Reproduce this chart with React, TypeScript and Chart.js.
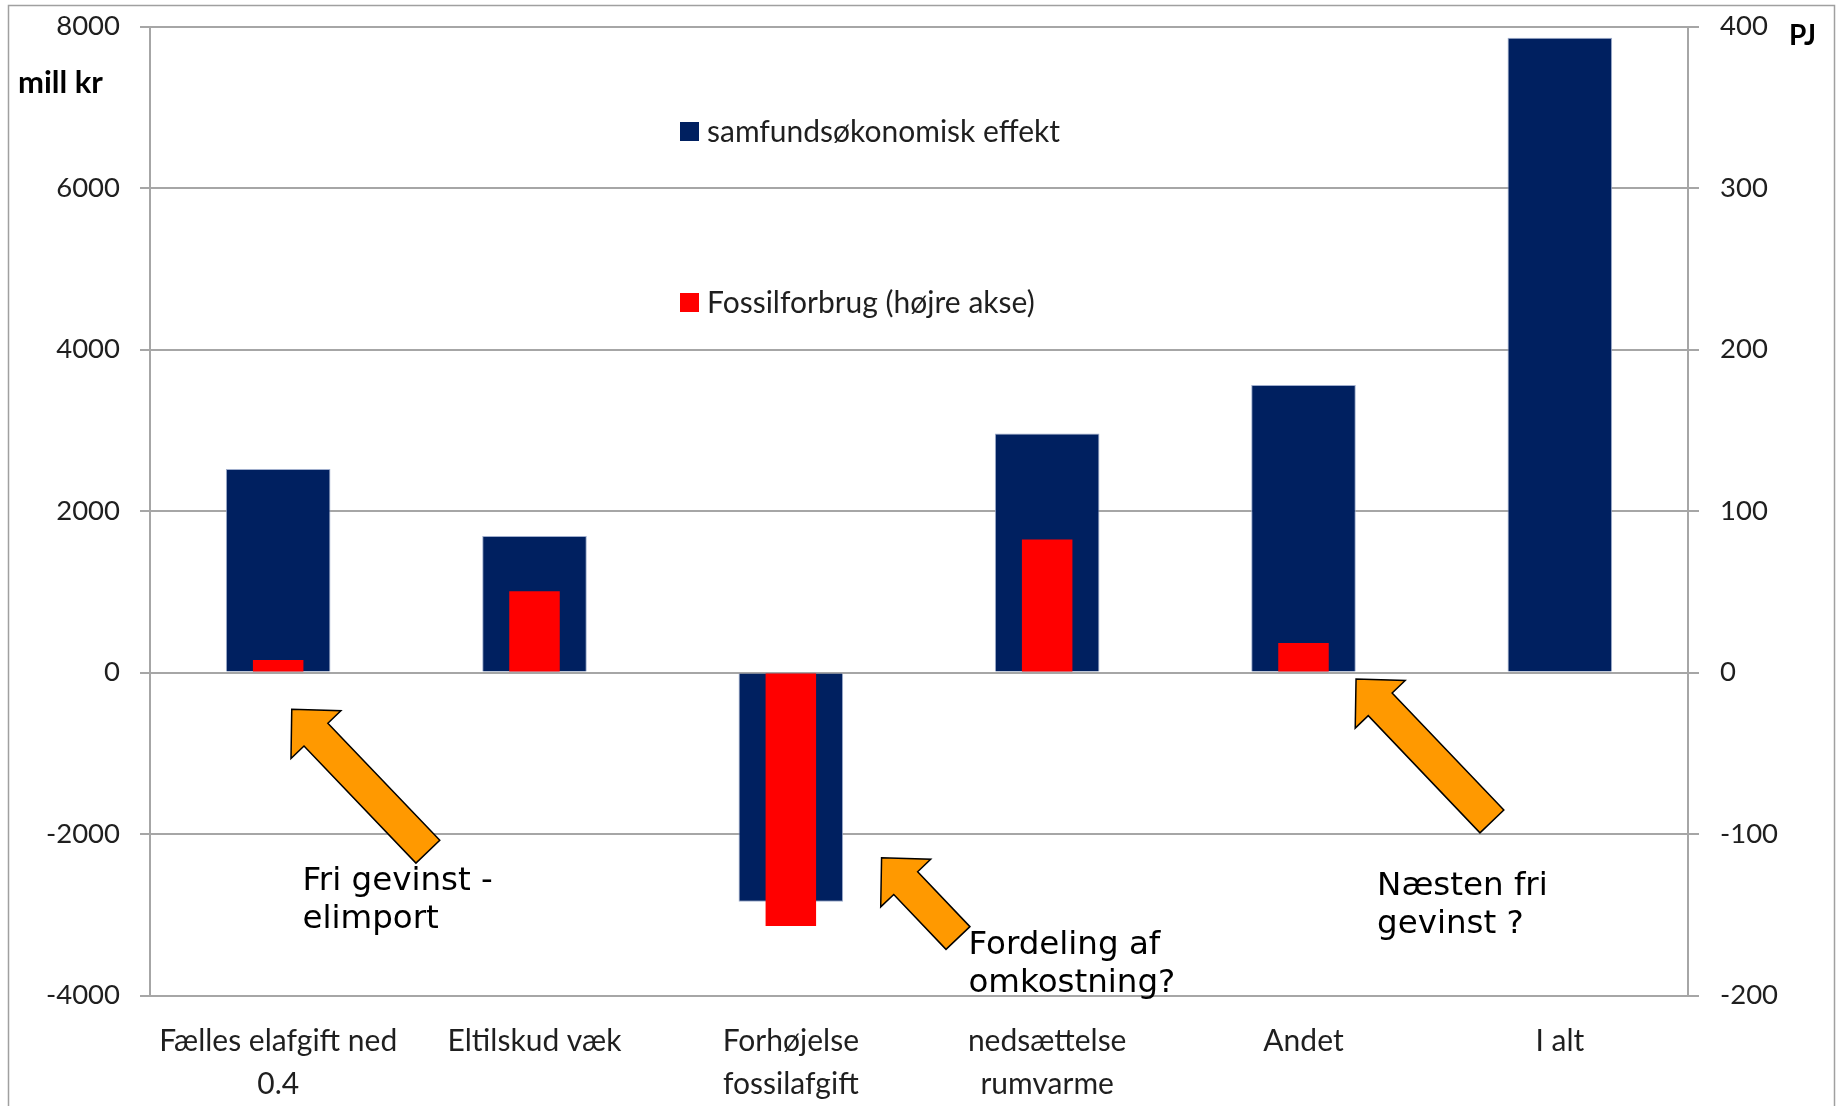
import React, { useEffect, useRef } from "react";
import { Chart, registerables } from "chart.js";

Chart.register(...registerables);

// ---------- data ----------
const categories: (string | string[])[] = [
  ["Fælles elafgift ned", "0.4"],
  "Eltilskud væk",
  ["Forhøjelse", "fossilafgift"],
  ["nedsættelse", "rumvarme"],
  "Andet",
  "I alt",
];
const samfundsLabel = "samfundsøkonomisk effekt";
const samfundsValues = [2520, 1690, -2840, 2960, 3560, 7860];
const fossilLabel = "Fossilforbrug (højre akse)";
const fossilValues = [7.7, 50.3, -157, 82.3, 18.3, 0];

const leftMin = -4000;
const leftMax = 8000;
const leftStep = 2000;
const rightMin = -200;
const rightMax = 400;
const rightStep = 100;

const leftUnit = "mill kr";
const rightUnit = "PJ";

const noteTexts: string[][] = [
  ["Fri gevinst -", "elimport"],
  ["Fordeling af", "omkostning?"],
  ["Næsten fri", "gevinst ?"],
];

// ---------- annotation layout (category index, left-axis value) ----------
const arrowLayout = [
  { tip: [0.053, -456], tail: [0.584, -2219] },
  { tip: [2.354, -2294], tail: [2.652, -3288] },
  { tip: [4.205, -80], tail: [4.735, -1845] },
];
const noteLayout = [
  { at: [0.095, -2693] },
  { at: [2.693, -3486] },
  { at: [4.287, -2755] },
];

const COLORS = {
  blue: "#002060",
  red: "#FF0000",
  orange: "#FF9900",
  grid: "#A6A6A6",
  text: "#1f1f1f",
};

const FONT = "Lato";

const decorPlugin = {
  id: "decor",
  beforeDraw(chart: any) {
    const ctx = chart.ctx;
    ctx.save();
    ctx.fillStyle = "#ffffff";
    ctx.fillRect(0, 0, chart.width, chart.height);
    ctx.strokeStyle = "#A0A0A0";
    ctx.lineWidth = 1.5;
    ctx.strokeRect(8.5, 5.5, 1826, 1200);
    ctx.restore();
  },
  afterDraw(chart: any) {
    const ctx = chart.ctx;
    const xs = chart.scales.x;
    const ys = chart.scales.y;
    ctx.save();
    // unit labels
    ctx.fillStyle = "#000";
    ctx.font = `bold 31px ${FONT}`;
    ctx.textBaseline = "middle";
    ctx.textAlign = "left";
    ctx.fillText(leftUnit, 18, 83);
    ctx.font = `bold 28px ${FONT}`;
    ctx.fillText(rightUnit, 1789, 36);

    // legend
    const legendPos = [
      { x: 680, y: 122 },
      { x: 680, y: 293 },
    ];
    chart.data.datasets.forEach((ds: any, i: number) => {
      const p = legendPos[i];
      ctx.fillStyle = ds.backgroundColor;
      ctx.fillRect(p.x, p.y, 19, 19);
      ctx.fillStyle = COLORS.text;
      ctx.font = `30px ${FONT}`;
      ctx.textBaseline = "middle";
      ctx.fillText(ds.label, p.x + 27, p.y + 10);
    });

    // arrows
    const shaftHalf = 16.5;
    const headHalf = 34.5;
    const headLen = 35;
    arrowLayout.forEach((a) => {
      const tx = xs.getPixelForValue(a.tip[0]);
      const ty = ys.getPixelForValue(a.tip[1]);
      const bx = xs.getPixelForValue(a.tail[0]);
      const by = ys.getPixelForValue(a.tail[1]);
      const dx = tx - bx;
      const dy = ty - by;
      const len = Math.hypot(dx, dy);
      const ux = dx / len;
      const uy = dy / len;
      const nx = -uy;
      const ny = ux;
      const hx = tx - ux * headLen;
      const hy = ty - uy * headLen;
      ctx.beginPath();
      ctx.moveTo(bx + nx * shaftHalf, by + ny * shaftHalf);
      ctx.lineTo(hx + nx * shaftHalf, hy + ny * shaftHalf);
      ctx.lineTo(hx + nx * headHalf, hy + ny * headHalf);
      ctx.lineTo(tx, ty);
      ctx.lineTo(hx - nx * headHalf, hy - ny * headHalf);
      ctx.lineTo(hx - nx * shaftHalf, hy - ny * shaftHalf);
      ctx.lineTo(bx - nx * shaftHalf, by - ny * shaftHalf);
      ctx.closePath();
      ctx.fillStyle = COLORS.orange;
      ctx.fill();
      ctx.strokeStyle = "#000";
      ctx.lineWidth = 1.5;
      ctx.lineJoin = "miter";
      ctx.stroke();
    });

    // note texts
    ctx.fillStyle = "#000";
    ctx.font = `32.5px "DejaVu Sans"`;
    ctx.textAlign = "left";
    ctx.textBaseline = "alphabetic";
    noteLayout.forEach((n, i) => {
      const x = xs.getPixelForValue(n.at[0]);
      const y = ys.getPixelForValue(n.at[1]);
      noteTexts[i].forEach((line, j) => {
        ctx.fillText(line, x, y + j * 38);
      });
    });
    ctx.restore();
  },
};

export default function App() {
  const ref = useRef<HTMLCanvasElement | null>(null);

  useEffect(() => {
    if (!ref.current) return;
    const chart = new Chart(ref.current, {
      type: "bar",
      data: {
        labels: categories,
        datasets: [
          {
            label: samfundsLabel,
            data: samfundsValues,
            backgroundColor: COLORS.blue,
            borderColor: "rgba(150,165,200,0.9)",
            borderWidth: 1,
            yAxisID: "y",
            grouped: false,
            categoryPercentage: 1,
            barPercentage: 0.408,
            order: 1,
          } as any,
          {
            label: fossilLabel,
            data: fossilValues,
            backgroundColor: COLORS.red,
            borderWidth: 0,
            yAxisID: "y1",
            grouped: false,
            categoryPercentage: 1,
            barPercentage: 0.197,
            order: 0,
          } as any,
        ],
      },
      options: {
        animation: false,
        responsive: false,
        devicePixelRatio: 1,
        layout: { padding: { left: 0, right: 0, top: 26.5, bottom: 0 } },
        plugins: {
          legend: { display: false },
          tooltip: { enabled: false },
        },
        scales: {
          x: {
            grid: { display: false },
            border: { display: false },
            ticks: {
              color: COLORS.text,
              font: { family: FONT, size: 30, lineHeight: 1.42 },
              padding: 17,
              maxRotation: 0,
              autoSkip: false,
            },
            afterFit: (s: any) => {
              s.height = 110.5;
              s.paddingLeft = 0;
              s.paddingRight = 0;
            },
          },
          y: {
            position: "left",
            min: leftMin,
            max: leftMax,
            ticks: {
              stepSize: leftStep,
              color: COLORS.text,
              font: { family: FONT, size: 27.5 },
              padding: 20,
              callback: (v: any) => String(v),
            },
            grid: {
              color: COLORS.grid,
              lineWidth: 2,
              tickLength: 10,
              drawTicks: true,
            },
            border: { display: true, color: COLORS.grid, width: 2 },
            afterFit: (s: any) => {
              s.width = 150;
              s.paddingTop = 0;
              s.paddingBottom = 0;
            },
          },
          y1: {
            position: "right",
            min: rightMin,
            max: rightMax,
            ticks: {
              stepSize: rightStep,
              color: COLORS.text,
              font: { family: FONT, size: 27.5 },
              padding: 21,
              callback: (v: any) => String(v),
            },
            grid: {
              drawOnChartArea: false,
              color: COLORS.grid,
              lineWidth: 2,
              tickLength: 11,
              drawTicks: true,
            },
            border: { display: true, color: COLORS.grid, width: 2 },
            afterFit: (s: any) => {
              s.width = 151;
              s.paddingTop = 0;
              s.paddingBottom = 0;
            },
          },
        },
      } as any,
      plugins: [decorPlugin],
    });
    return () => chart.destroy();
  }, []);

  return (
    <canvas
      ref={ref}
      width={1839}
      height={1106}
      style={{ position: "absolute", left: 0, top: 0, width: 1839, height: 1106 }}
    />
  );
}
